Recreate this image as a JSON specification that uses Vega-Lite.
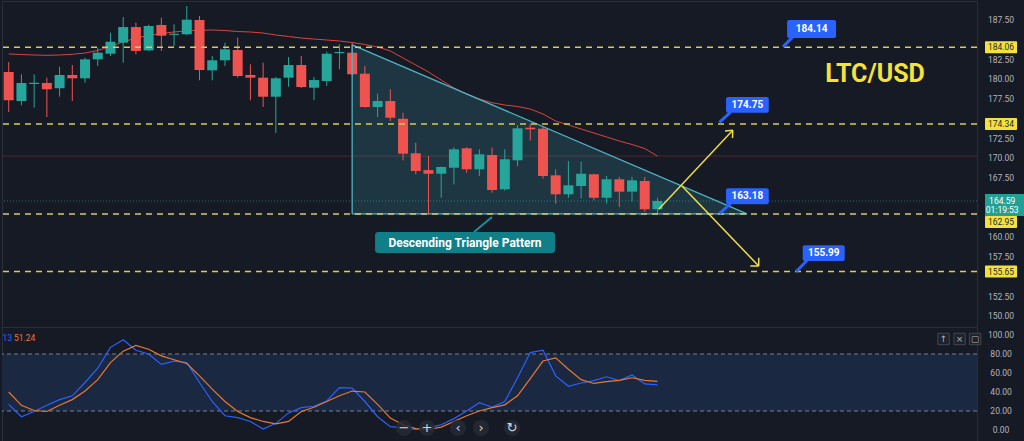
{
  "$schema": "https://vega.github.io/schema/vega-lite/v6.json",
  "background": "#161a25",
  "padding": 0,
  "spacing": 0,
  "bounds": "flush",
  "config": {"view": {"stroke": "#2a2e39", "strokeWidth": 1}},
  "resolve": {"scale": {"x": "independent", "y": "independent"}},
  "datasets": {
    "callouts": [
      {"t": "184.14", "x1": 61.19, "x2": 65.04, "y1": 187.5, "y2": 185.22, "xt": 63.12, "yt": 186.36, "px1": 61.6, "py1": 185.3, "px2": 60.87, "py2": 184.1},
      {"t": "174.75", "x1": 56.39, "x2": 59.75, "y1": 177.75, "y2": 175.77, "xt": 58.07, "yt": 176.76, "px1": 56.75, "py1": 175.85, "px2": 55.87, "py2": 174.55},
      {"t": "163.18", "x1": 56.39, "x2": 59.75, "y1": 166.2, "y2": 164.17, "xt": 58.07, "yt": 165.19, "px1": 56.75, "py1": 164.25, "px2": 55.87, "py2": 162.98},
      {"t": "155.99", "x1": 62.42, "x2": 65.72, "y1": 158.98, "y2": 156.99, "xt": 64.07, "yt": 157.99, "px1": 62.75, "py1": 157.05, "px2": 61.9, "py2": 155.64}
    ],
    "candles": [
      {"i":0,"o":180.92,"h":182.18,"l":175.85,"c":177.34,"ma":183.2,"k":27,"d":40},
      {"i":1,"o":177.25,"h":180.63,"l":176.7,"c":179.53,"ma":183.13,"k":14,"d":26},
      {"i":2,"o":179.4,"h":180.63,"l":176.4,"c":179.55,"ma":183.07,"k":19.5,"d":20.5},
      {"i":3,"o":179.53,"h":180.2,"l":175.22,"c":178.73,"ma":183.03,"k":26,"d":19.5},
      {"i":4,"o":178.86,"h":181.59,"l":177.79,"c":180.54,"ma":183.07,"k":32,"d":26},
      {"i":5,"o":180.54,"h":181.8,"l":177.25,"c":180.12,"ma":183.16,"k":36,"d":32},
      {"i":6,"o":180.12,"h":182.73,"l":179.56,"c":182.52,"ma":183.32,"k":50,"d":41},
      {"i":7,"o":182.52,"h":183.99,"l":181.68,"c":183.36,"ma":183.64,"k":65,"d":53},
      {"i":8,"o":183.23,"h":185.89,"l":182.94,"c":184.75,"ma":184.15,"k":87,"d":71},
      {"i":9,"o":184.63,"h":187.88,"l":182.1,"c":186.61,"ma":184.72,"k":95,"d":83},
      {"i":10,"o":186.61,"h":187.16,"l":183.16,"c":183.58,"ma":185.22,"k":84,"d":89},
      {"i":11,"o":183.66,"h":186.9,"l":183.58,"c":186.74,"ma":185.54,"k":80,"d":85},
      {"i":12,"o":186.87,"h":187.79,"l":183.58,"c":185.51,"ma":185.79,"k":69,"d":78},
      {"i":13,"o":185.62,"h":186.95,"l":184.2,"c":185.76,"ma":185.98,"k":72.5,"d":74},
      {"i":14,"o":185.69,"h":189.27,"l":185.6,"c":187.54,"ma":186.13,"k":71,"d":70},
      {"i":15,"o":187.5,"h":188.01,"l":179.87,"c":181.17,"ma":186.2,"k":50,"d":57},
      {"i":16,"o":181.13,"h":182.94,"l":179.87,"c":182.4,"ma":186.23,"k":30,"d":43},
      {"i":17,"o":182.4,"h":184.63,"l":181.68,"c":183.79,"ma":186.17,"k":15,"d":30},
      {"i":18,"o":183.7,"h":185.26,"l":180.2,"c":180.41,"ma":186.04,"k":13,"d":19.5},
      {"i":19,"o":180.54,"h":181.89,"l":177.34,"c":180.2,"ma":185.98,"k":9,"d":13},
      {"i":20,"o":180.2,"h":182.1,"l":176.49,"c":177.79,"ma":185.85,"k":1,"d":9},
      {"i":21,"o":177.79,"h":180.3,"l":173.2,"c":180.12,"ma":185.6,"k":7,"d":6.5},
      {"i":22,"o":180.2,"h":182.82,"l":179.06,"c":181.8,"ma":185.41,"k":18,"d":9},
      {"i":23,"o":181.8,"h":182.94,"l":178.9,"c":179.02,"ma":185.22,"k":23.5,"d":19.5},
      {"i":24,"o":178.93,"h":180.28,"l":177.34,"c":179.9,"ma":185.09,"k":25,"d":24},
      {"i":25,"o":179.78,"h":183.5,"l":179.15,"c":183.23,"ma":184.97,"k":30.5,"d":30},
      {"i":26,"o":183.3,"h":184.42,"l":181.26,"c":183.45,"ma":184.84,"k":44.6,"d":36},
      {"i":27,"o":183.36,"h":184.63,"l":180.5,"c":180.63,"ma":184.65,"k":44,"d":41},
      {"i":28,"o":180.7,"h":181.68,"l":176.4,"c":176.49,"ma":184.4,"k":30,"d":40},
      {"i":29,"o":176.49,"h":178.17,"l":175.22,"c":177.25,"ma":184.08,"k":14,"d":27},
      {"i":30,"o":177.25,"h":178.73,"l":174.72,"c":175.13,"ma":183.58,"k":3.5,"d":12.5},
      {"i":31,"o":175.0,"h":175.77,"l":169.74,"c":170.58,"ma":182.69,"k":2.5,"d":5.5},
      {"i":32,"o":170.63,"h":171.97,"l":167.97,"c":168.39,"ma":181.8,"k":0.7,"d":1.5},
      {"i":33,"o":168.5,"h":170.28,"l":162.9,"c":168.04,"ma":180.92,"k":2.5,"d":0.7},
      {"i":34,"o":168.04,"h":168.95,"l":165.0,"c":168.89,"ma":179.9,"k":5.5,"d":3},
      {"i":35,"o":168.8,"h":171.4,"l":166.7,"c":171.13,"ma":178.89,"k":12,"d":9},
      {"i":36,"o":171.26,"h":171.43,"l":168.17,"c":168.6,"ma":178.13,"k":20,"d":15},
      {"i":37,"o":168.6,"h":171.13,"l":167.75,"c":170.5,"ma":177.5,"k":28.8,"d":20},
      {"i":38,"o":170.41,"h":171.34,"l":165.64,"c":165.98,"ma":177.03,"k":24,"d":23.5},
      {"i":39,"o":166.07,"h":171.13,"l":165.9,"c":169.87,"ma":176.74,"k":30,"d":26.5},
      {"i":40,"o":169.74,"h":174.2,"l":169.0,"c":173.79,"ma":176.55,"k":55,"d":36},
      {"i":41,"o":173.87,"h":174.37,"l":172.27,"c":173.66,"ma":176.23,"k":81.5,"d":54},
      {"i":42,"o":173.74,"h":173.96,"l":167.41,"c":167.75,"ma":175.6,"k":84,"d":72.6},
      {"i":43,"o":167.84,"h":168.6,"l":164.25,"c":165.44,"ma":174.71,"k":57,"d":76},
      {"i":44,"o":165.44,"h":169.65,"l":165.0,"c":166.58,"ma":174.21,"k":46,"d":64},
      {"i":45,"o":166.49,"h":169.56,"l":164.93,"c":168.04,"ma":173.7,"k":49.5,"d":53},
      {"i":46,"o":167.97,"h":168.04,"l":164.68,"c":165.0,"ma":173.2,"k":52,"d":49},
      {"i":47,"o":165.0,"h":167.75,"l":164.25,"c":167.34,"ma":172.69,"k":56,"d":51},
      {"i":48,"o":167.34,"h":167.63,"l":163.83,"c":165.77,"ma":172.18,"k":52,"d":52.3},
      {"i":49,"o":165.77,"h":167.63,"l":164.55,"c":167.21,"ma":171.74,"k":58,"d":55},
      {"i":50,"o":167.12,"h":167.63,"l":163.23,"c":163.54,"ma":171.23,"k":48.5,"d":52.3},
      {"i":51,"o":163.54,"h":165.0,"l":163.08,"c":164.59,"ma":170.28,"k":47.4,"d":51.24}
    ]
  },
  "vconcat": [
    {
      "width": 975,
      "height": 326,
      "layer": [
        {
          "data": {"values": [{"p": 170.28}]},
          "mark": {"type": "rule", "color": "#ef5350", "opacity": 0.25, "strokeWidth": 1},
          "encoding": {
            "y": {"field": "p", "type": "quantitative", "scale": {"domain": [148.64, 189.905], "nice": false, "zero": false}, "axis": null}
          }
        },
        {
          "data": {"values": [{"p": 164.59}]},
          "mark": {"type": "rule", "color": "#26a69a", "opacity": 0.6, "strokeWidth": 1, "strokeDash": [1, 2]},
          "encoding": {"y": {"field": "p", "type": "quantitative", "axis": null}}
        },
        {
          "data": {"values": [{"i": 27, "top": 184.34, "bot": 162.95}, {"i": 58.04, "top": 162.95, "bot": 162.95}]},
          "mark": {"type": "area", "color": "#3ba8b8", "opacity": 0.2},
          "encoding": {
            "x": {"field": "i", "type": "quantitative", "scale": {"domain": [-0.527, 76.12], "nice": false, "zero": false, "padding": 0}, "axis": null},
            "y": {"field": "top", "type": "quantitative", "axis": null},
            "y2": {"field": "bot"}
          }
        },
        {
          "data": {"name": "candles"},
          "mark": {"type": "line", "color": "#d9453f", "strokeWidth": 1},
          "encoding": {
            "x": {"field": "i", "type": "quantitative", "axis": null},
            "y": {"field": "ma", "type": "quantitative", "axis": null}
          }
        },
        {
          "data": {"name": "candles"},
          "mark": {"type": "rule", "strokeWidth": 1},
          "encoding": {
            "x": {"field": "i", "type": "quantitative", "axis": null},
            "y": {"field": "l", "type": "quantitative", "axis": null},
            "y2": {"field": "h"},
            "color": {"condition": {"test": "datum.c >= datum.o", "value": "#26a69a"}, "value": "#ef5350"}
          }
        },
        {
          "data": {"name": "candles"},
          "mark": {"type": "bar", "size": 10},
          "encoding": {
            "x": {"field": "i", "type": "quantitative", "axis": null},
            "y": {"field": "o", "type": "quantitative", "axis": null},
            "y2": {"field": "c"},
            "color": {"condition": {"test": "datum.c >= datum.o", "value": "#26a69a"}, "value": "#ef5350"}
          }
        },
        {
          "data": {"values": [
            {"x": 27, "y": 184.34, "x2": 58.04, "y2": 162.95},
            {"x": 27, "y": 184.34, "x2": 27, "y2": 162.95},
            {"x": 27, "y": 162.95, "x2": 58.04, "y2": 162.95}
          ]},
          "mark": {"type": "rule", "color": "#4fb3c4", "strokeWidth": 1.3},
          "encoding": {
            "x": {"field": "x", "type": "quantitative", "axis": null},
            "x2": {"field": "x2"},
            "y": {"field": "y", "type": "quantitative", "axis": null},
            "y2": {"field": "y2"}
          }
        },
        {
          "data": {"values": [{"p": 184.06}, {"p": 174.34}, {"p": 162.95}, {"p": 155.65}]},
          "mark": {"type": "rule", "color": "#d6cc5a", "strokeWidth": 1.5, "strokeDash": [6, 5]},
          "encoding": {"y": {"field": "p", "type": "quantitative", "axis": null}}
        },
        {
          "data": {"values": [
            {"x": 51.1, "y": 163.54, "x2": 56.92, "y2": 173.54},
            {"x": 56.92, "y": 173.54, "x2": 56.31, "y2": 173.45},
            {"x": 56.92, "y": 173.54, "x2": 56.9, "y2": 172.56},
            {"x": 52.93, "y": 166.49, "x2": 58.96, "y2": 156.36},
            {"x": 58.96, "y": 156.36, "x2": 58.3, "y2": 156.36},
            {"x": 58.96, "y": 156.36, "x2": 58.96, "y2": 157.4}
          ]},
          "mark": {"type": "rule", "color": "#f0dd4a", "strokeWidth": 1.5},
          "encoding": {
            "x": {"field": "x", "type": "quantitative", "axis": null},
            "x2": {"field": "x2"},
            "y": {"field": "y", "type": "quantitative", "axis": null},
            "y2": {"field": "y2"}
          }
        },
        {
          "data": {"name": "callouts"},
          "mark": {"type": "rule", "color": "#2962ff", "strokeWidth": 3},
          "encoding": {
            "x": {"field": "px1", "type": "quantitative", "axis": null},
            "x2": {"field": "px2"},
            "y": {"field": "py1", "type": "quantitative", "axis": null},
            "y2": {"field": "py2"}
          }
        },
        {
          "data": {"name": "callouts"},
          "mark": {"type": "rect", "color": "#2962ff", "cornerRadius": 2},
          "encoding": {
            "x": {"field": "x1", "type": "quantitative", "axis": null},
            "x2": {"field": "x2"},
            "y": {"field": "y1", "type": "quantitative", "axis": null},
            "y2": {"field": "y2"}
          }
        },
        {
          "data": {"name": "callouts"},
          "mark": {"type": "text", "color": "#ffffff", "fontSize": 10, "fontWeight": "bold", "font": "Roboto", "align": "center", "baseline": "middle"},
          "encoding": {
            "x": {"field": "xt", "type": "quantitative", "axis": null},
            "y": {"field": "yt", "type": "quantitative", "axis": null},
            "text": {"field": "t"}
          }
        },
        {
          "data": {"values": [{"t": "LTC/USD", "x": 68.1, "y": 180.66}]},
          "mark": {"type": "text", "color": "#f5e23c", "fontSize": 25, "fontWeight": "bold", "font": "Roboto", "align": "center", "baseline": "middle"},
          "encoding": {
            "x": {"field": "x", "type": "quantitative", "axis": null},
            "y": {"field": "y", "type": "quantitative", "axis": null},
            "text": {"field": "t"}
          }
        },
        {
          "data": {"values": [{"x": 36.58, "y": 160.66, "x2": 37.99, "y2": 162.56}]},
          "mark": {"type": "rule", "color": "#1a8e98", "strokeWidth": 2},
          "encoding": {
            "x": {"field": "x", "type": "quantitative", "axis": null},
            "x2": {"field": "x2"},
            "y": {"field": "y", "type": "quantitative", "axis": null},
            "y2": {"field": "y2"}
          }
        },
        {
          "data": {"values": [{"x1": 28.8, "x2": 42.95, "y1": 160.66, "y2": 158.01}]},
          "mark": {"type": "rect", "color": "#117f88", "cornerRadius": 3},
          "encoding": {
            "x": {"field": "x1", "type": "quantitative", "axis": null},
            "x2": {"field": "x2"},
            "y": {"field": "y1", "type": "quantitative", "axis": null},
            "y2": {"field": "y2"}
          }
        },
        {
          "data": {"values": [{"t": "Descending Triangle Pattern", "xt": 35.87, "yt": 159.3}]},
          "mark": {"type": "text", "color": "#ffffff", "fontSize": 12, "fontWeight": "bold", "font": "Roboto", "align": "center", "baseline": "middle"},
          "encoding": {
            "x": {"field": "xt", "type": "quantitative", "axis": null},
            "y": {"field": "yt", "type": "quantitative", "axis": null},
            "text": {"field": "t"}
          }
        },
        {
          "data": {"values": [{"v":150},{"v":152.5},{"v":157.5},{"v":160},{"v":167.5},{"v":170},{"v":172.5},{"v":177.5},{"v":180},{"v":182.5},{"v":187.5}]},
          "mark": {"type": "text", "color": "#b2b5be", "fontSize": 8.5, "font": "Roboto", "align": "center", "baseline": "middle"},
          "encoding": {
            "x": {"datum": 78.01, "type": "quantitative", "axis": null},
            "y": {"field": "v", "type": "quantitative", "axis": null},
            "text": {"field": "v", "type": "quantitative", "format": ".2f"}
          }
        },
        {
          "data": {"values": [
            {"y1": 184.82, "y2": 183.3},
            {"y1": 175.1, "y2": 173.58},
            {"y1": 162.69, "y2": 161.17},
            {"y1": 156.41, "y2": 154.89}
          ]},
          "mark": {"type": "rect", "color": "#f2e23f", "cornerRadius": 1},
          "encoding": {
            "x": {"datum": 76.75, "type": "quantitative", "axis": null},
            "x2": {"datum": 79.27},
            "y": {"field": "y1", "type": "quantitative", "axis": null},
            "y2": {"field": "y2"}
          }
        },
        {
          "data": {"values": [
            {"t": "184.06", "yt": 184.06},
            {"t": "174.34", "yt": 174.34},
            {"t": "162.95", "yt": 161.93},
            {"t": "155.65", "yt": 155.65}
          ]},
          "mark": {"type": "text", "color": "#2a2a2a", "fontSize": 8.5, "font": "Roboto", "align": "center", "baseline": "middle"},
          "encoding": {
            "x": {"datum": 78.01, "type": "quantitative", "axis": null},
            "y": {"field": "yt", "type": "quantitative", "axis": null},
            "text": {"field": "t"}
          }
        },
        {
          "data": {"values": [{"y1": 165.48, "y2": 162.69}]},
          "mark": {"type": "rect", "color": "#22a094"},
          "encoding": {
            "x": {"datum": 76.75, "type": "quantitative", "axis": null},
            "x2": {"datum": 79.9},
            "y": {"field": "y1", "type": "quantitative", "axis": null},
            "y2": {"field": "y2"}
          }
        },
        {
          "data": {"values": [{"t": "164.59", "y": 164.59}, {"t": "01:19:53", "y": 163.42}]},
          "mark": {"type": "text", "color": "#ffffff", "fontSize": 8.5, "font": "Roboto", "align": "center", "baseline": "middle"},
          "encoding": {
            "x": {"datum": 78.1, "type": "quantitative", "axis": null},
            "y": {"field": "y", "type": "quantitative", "axis": null},
            "text": {"field": "t"}
          }
        }
      ]
    },
    {
      "width": 975,
      "height": 115,
      "layer": [
        {
          "data": {"values": [{"x1": -0.527, "x2": 76.12, "y1": 20, "y2": 80}]},
          "mark": {"type": "rect", "color": "#1b2841"},
          "encoding": {
            "x": {"field": "x1", "type": "quantitative", "scale": {"domain": [-0.527, 76.12], "nice": false, "zero": false, "padding": 0}, "axis": null},
            "x2": {"field": "x2"},
            "y": {"field": "y1", "type": "quantitative", "scale": {"domain": [-12.63, 108.42], "nice": false, "zero": false}, "axis": null},
            "y2": {"field": "y2"}
          }
        },
        {
          "data": {"values": [{"v": 80}, {"v": 20}]},
          "mark": {"type": "rule", "color": "#9598a1", "opacity": 0.8, "strokeWidth": 1, "strokeDash": [4, 3]},
          "encoding": {"y": {"field": "v", "type": "quantitative", "axis": null}}
        },
        {
          "data": {"name": "candles"},
          "mark": {"type": "line", "color": "#2962ff", "strokeWidth": 1.2},
          "encoding": {
            "x": {"field": "i", "type": "quantitative", "axis": null},
            "y": {"field": "k", "type": "quantitative", "axis": null}
          }
        },
        {
          "data": {"name": "candles"},
          "mark": {"type": "line", "color": "#e8782f", "strokeWidth": 1.2},
          "encoding": {
            "x": {"field": "i", "type": "quantitative", "axis": null},
            "y": {"field": "d", "type": "quantitative", "axis": null}
          }
        },
        {
          "data": {"values": [{"v": 0}, {"v": 20}, {"v": 40}, {"v": 60}, {"v": 80}, {"v": 100}]},
          "mark": {"type": "text", "color": "#b2b5be", "fontSize": 8.5, "font": "Roboto", "align": "center", "baseline": "middle"},
          "encoding": {
            "x": {"datum": 78.01, "type": "quantitative", "axis": null},
            "y": {"field": "v", "type": "quantitative", "axis": null},
            "text": {"field": "v", "type": "quantitative", "format": ".2f"}
          }
        },
        {
          "data": {"values": [{"t": "13", "x": -0.49, "y": 96.8, "s": "k"}, {"t": "51.24", "x": 0.42, "y": 96.8, "s": "d"}]},
          "mark": {"type": "text", "fontSize": 8.5, "font": "Roboto", "align": "left", "baseline": "middle"},
          "encoding": {
            "x": {"field": "x", "type": "quantitative", "axis": null},
            "y": {"field": "y", "type": "quantitative", "axis": null},
            "text": {"field": "t"},
            "color": {"field": "s", "type": "nominal", "scale": {"domain": ["k", "d"], "range": ["#2962ff", "#e8782f"]}, "legend": null}
          }
        },
        {
          "data": {"values": [{"x": 73.49, "y": 95.8}, {"x": 74.75, "y": 95.8}, {"x": 75.97, "y": 95.8}]},
          "mark": {"type": "point", "shape": "square", "size": 130, "filled": true, "color": "#1e222d", "stroke": "#434651", "strokeWidth": 1, "opacity": 1},
          "encoding": {
            "x": {"field": "x", "type": "quantitative", "axis": null},
            "y": {"field": "y", "type": "quantitative", "axis": null}
          }
        },
        {
          "data": {"values": [{"t": "↑", "x": 73.49, "y": 95.8}, {"t": "×", "x": 74.75, "y": 95.8}, {"t": "▢", "x": 75.97, "y": 95.8}]},
          "mark": {"type": "text", "color": "#b2b5be", "fontSize": 9, "font": "DejaVu Sans", "align": "center", "baseline": "middle"},
          "encoding": {
            "x": {"field": "x", "type": "quantitative", "axis": null},
            "y": {"field": "y", "type": "quantitative", "axis": null},
            "text": {"field": "t"}
          }
        },
        {
          "data": {"values": [{"x": 31.07, "y": 2.1}, {"x": 32.88, "y": 2.1}, {"x": 35.32, "y": 2.1}, {"x": 37.13, "y": 2.1}, {"x": 39.57, "y": 2.1}]},
          "mark": {"type": "point", "shape": "circle", "size": 260, "filled": true, "color": "#262a35", "opacity": 0.85},
          "encoding": {
            "x": {"field": "x", "type": "quantitative", "axis": null},
            "y": {"field": "y", "type": "quantitative", "axis": null}
          }
        },
        {
          "data": {"values": [
            {"t": "−", "x": 31.07, "y": 2.1},
            {"t": "+", "x": 32.88, "y": 2.1},
            {"t": "‹", "x": 35.32, "y": 2.1},
            {"t": "›", "x": 37.13, "y": 2.1},
            {"t": "↻", "x": 39.57, "y": 2.1}
          ]},
          "mark": {"type": "text", "color": "#d1d4dc", "fontSize": 13, "font": "DejaVu Sans", "align": "center", "baseline": "middle"},
          "encoding": {
            "x": {"field": "x", "type": "quantitative", "axis": null},
            "y": {"field": "y", "type": "quantitative", "axis": null},
            "text": {"field": "t"}
          }
        }
      ]
    }
  ]
}
